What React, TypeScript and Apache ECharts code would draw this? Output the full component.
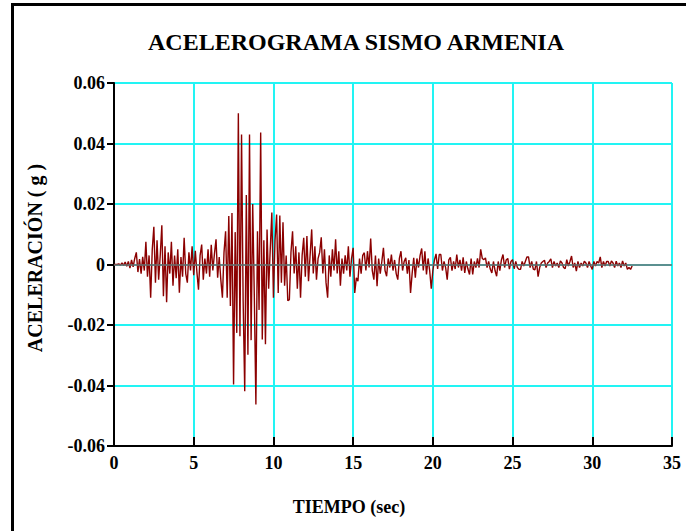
import React, { useEffect, useRef } from "react";
import * as echarts from "echarts";

const TITLE = "ACELEROGRAMA SISMO ARMENIA";
const X_NAME = "TIEMPO (sec)";
const Y_NAME = "ACELERACIÓN ( g )";

const SAMPLE_STEP_SEC = 0.1;

// acceleration in thousandths of g, one sample every 0.1 s from t = 0 to 32.5 s
const ACCEL_MILLI_G = [
  0, 0, 0, 0.2, -0.2,
  0.5, -0.3, 0.8, -0.6, 1.0,
  -1.2, 1.5, -0.8, 2.0, 4.0,
  -2.5, 1.8, -3.0, 2.5, -2.0,
  7.5, -4.0, 3.0, -11.0, 5.0,
  12.5, -6.0, 8.0, -5.0, 3.0,
  13.0, -10.5, 6.0, -12.5, 4.0,
  -3.0, 7.5, -7.0, 3.0, -4.5,
  5.0, -9.3, 2.5, -4.0, 8.8,
  -3.0, -6.0, 4.0, -2.0, 6.0,
  -3.5, 4.5, -2.5, -8.3, 3.0,
  6.6, -5.0, 2.0, -3.0, 5.0,
  -4.0, 6.5, -2.0, 3.5, 8.3,
  -4.4, 2.5, -5.0, -11.0, 4.0,
  11.0, -11.0, 16.0, -13.7, 17.0,
  -39.7, 10.7, -22.6, 50.0, -23.7,
  43.0, -12.0, -41.9, 23.0, -29.8,
  43.0, -25.0, 20.0, -10.0, -46.3,
  11.0, -15.0, 43.6, -24.8, 8.0,
  -26.4, 11.6, -8.0, 5.0, 17.2,
  -11.0, 8.0, 16.5, -9.4, 16.2,
  -6.0, 14.0, -7.0, 3.0, -12.0,
  -11.6, 4.0, 11.0, -3.0, 6.0,
  -8.0, 4.0, -11.0, 3.0, 8.8,
  -4.0, 9.4, -5.5, 3.0, 11.6,
  -3.0, 6.0, -5.0, 2.0, 4.0,
  9.0, -3.0, 5.0, -6.0, -11.0,
  3.0, -4.0, 5.0, -2.0, 8.3,
  -3.0, 4.4, -7.0, 2.0, -3.0,
  3.0, -2.0, 6.0, -4.0, 2.0,
  5.5, -9.4, -4.4, -5.5, 2.0,
  -3.0, 3.0, 3.9, -2.0, 4.4,
  -1.0, 8.6, -2.0, -5.0, 3.0,
  -7.2, 2.0, -3.0, 1.0, 5.5,
  -2.0, -3.9, 2.0, -1.0, 3.3,
  -2.0, 1.5, -3.0, -5.0, 2.0,
  4.4, -2.0, 1.0, 2.2, -3.0,
  1.5, -9.4, -3.0, 2.2, -4.4,
  2.0, -1.0, 3.0, 5.3, -2.0,
  4.4, -3.3, 2.0, -2.0, -8.0,
  -2.0, 1.5, 3.5, -1.5, 3.3,
  3.3, -2.0, 1.0, -1.0, -5.0,
  1.5, 2.4, -2.0, 1.0, -1.5,
  3.3, -1.0, 1.5, -2.0, 2.4,
  -2.8, 1.0, -1.5, -3.3, 2.0,
  -3.3, 1.0, -1.0, 2.0, -1.0,
  5.0, 2.0, 1.6, 2.2, -1.0,
  1.0, -1.5, -2.8, 1.0, -2.0,
  -3.9, 1.0, -2.0, 1.5, 3.3,
  -1.0, 1.5, 2.0, -1.5, 1.0,
  1.6, -1.4, 1.0, -1.0, -1.6,
  -1.6, 1.0, -0.5, 1.0, 2.5,
  2.5, -1.0, 1.0, -1.5, -1.8,
  1.0, -4.0, -1.0, 0.5, 1.0,
  1.4, -1.0, 0.5, 1.0, 1.9,
  -1.0, 1.0, -0.5, 0.5, -1.0,
  1.2, 0.5, -1.0, -1.4, 1.6,
  -0.5, 1.0, 2.8, -1.0, 0.5,
  -2.2, 1.0, -1.0, 0.5, -0.5,
  1.1, 0.5, -1.0, 1.0, -0.5,
  -1.6, 1.0, -0.5, 1.0, 0.5,
  2.5, -1.0, 1.0, -0.5, 1.0,
  1.0, -0.5, 1.2, 0.5, -1.0,
  1.1, -0.5, 0.5, -1.0, 1.2,
  -0.5, 0.5, -1.6, -1.0, -1.6, -0.5,
];

const X_MIN = 0;
const X_MAX = 35;
const X_STEP = 5;
const Y_MIN = -0.06;
const Y_MAX = 0.06;
const Y_STEP = 0.02;

const SERIF = "'Liberation Serif', 'Times New Roman', 'DejaVu Serif', serif";

export default function App() {
  const ref = useRef<HTMLDivElement>(null);

  useEffect(() => {
    if (!ref.current) return;
    const chart = echarts.init(ref.current, null, { renderer: "svg" });
    const data = ACCEL_MILLI_G.map((v, i) => [
      Number((i * SAMPLE_STEP_SEC).toFixed(2)),
      v / 1000,
    ]);

    chart.setOption({
      animation: false,
      backgroundColor: "#ffffff",
      grid: { left: 114, right: 14, top: 83, bottom: 85 },
      graphic: [
        {
          type: "rect",
          shape: { x: 12.5, y: 4.5, width: 700, height: 560 },
          style: { fill: "none", stroke: "#000", lineWidth: 3 },
          silent: true,
        },
        {
          type: "text",
          x: 356,
          y: 42,
          style: {
            text: TITLE,
            fill: "#000",
            fontFamily: SERIF,
            fontWeight: "bold",
            fontSize: 24,
            align: "center",
            verticalAlign: "middle",
          },
        },
        {
          type: "text",
          x: 349,
          y: 507,
          style: {
            text: X_NAME,
            fill: "#000",
            fontFamily: SERIF,
            fontWeight: "bold",
            fontSize: 18,
            align: "center",
            verticalAlign: "middle",
          },
        },
        {
          type: "text",
          x: 35,
          y: 258,
          rotation: Math.PI / 2,
          style: {
            text: Y_NAME,
            fill: "#000",
            fontFamily: SERIF,
            fontWeight: "bold",
            fontSize: 20,
            align: "center",
            verticalAlign: "middle",
          },
        },
      ],
      xAxis: {
        type: "value",
        min: X_MIN,
        max: X_MAX,
        interval: X_STEP,
        axisLine: { show: true, onZero: false, lineStyle: { color: "#000", width: 2 } },
        axisTick: { show: true, inside: true, length: 9, lineStyle: { color: "#000", width: 2 } },
        axisLabel: {
          color: "#000",
          fontFamily: SERIF,
          fontWeight: "bold",
          fontSize: 18,
          margin: 8,
        },
        splitLine: { show: true, lineStyle: { color: "#22f4f4", width: 2 } },
      },
      yAxis: {
        type: "value",
        min: Y_MIN,
        max: Y_MAX,
        interval: Y_STEP,
        axisLine: { show: true, onZero: false, lineStyle: { color: "#000", width: 2 } },
        axisTick: { show: true, inside: false, length: 7, lineStyle: { color: "#000", width: 2 } },
        axisLabel: {
          color: "#000",
          fontFamily: SERIF,
          fontWeight: "bold",
          fontSize: 18,
          margin: 9,
          formatter: (v: number) => (Math.abs(v) < 1e-9 ? "0" : v.toFixed(2)),
        },
        splitLine: { show: true, lineStyle: { color: "#22f4f4", width: 2 } },
      },
      series: [
        {
          type: "line",
          data,
          showSymbol: false,
          symbol: "none",
          lineStyle: { color: "#8b0000", width: 1.4 },
          markLine: {
            silent: true,
            symbol: "none",
            label: { show: false },
            lineStyle: { color: "#6f6f6f", width: 1.5, type: "solid" },
            data: [{ yAxis: 0 }],
          },
          z: 3,
        },
      ],
    });

    return () => chart.dispose();
  }, []);

  return (
    <div
      ref={ref}
      style={{ position: "fixed", left: 0, top: 0, width: 686, height: 531 }}
    />
  );
}
